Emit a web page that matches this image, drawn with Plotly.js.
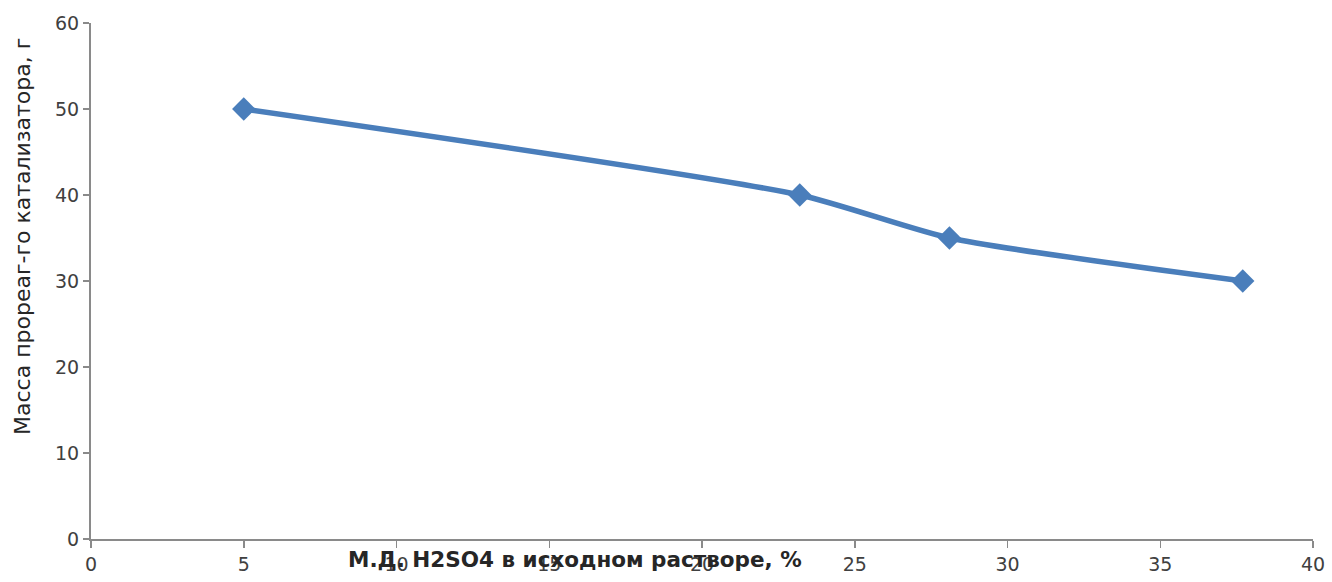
<!DOCTYPE html>
<html>
<head>
<meta charset="utf-8">
<script src="https://cdn.plot.ly/plotly-3.0.1.min.js"></script>
<style>html,body{margin:0;padding:0;background:#fff;}#chart{width:1332px;height:582px;}</style>
</head>
<body>
<div id="chart"></div>
<script>
const xValues = [5, 23.2, 28.1, 37.7];
const yValues = [50, 40, 35, 30];
const xTicks = [0, 5, 10, 15, 20, 25, 30, 35, 40];
const yTicks = [0, 10, 20, 30, 40, 50, 60];
const xTitle = 'М.Д. H2SO4 в исходном растворе, %';
const yTitle = 'Масса прореаг-го катализатора, г';

const fontFam = '"DejaVu Sans", "Open Sans", sans-serif';
const trace = {
  x: xValues, y: yValues, type: 'scatter', mode: 'lines+markers',
  line: {color: '#4a7ebb', width: 5.5, shape: 'spline', smoothing: 0.6},
  marker: {symbol: 'diamond', size: 18, color: '#4a7ebb'},
  hoverinfo: 'none', cliponaxis: false
};
const layout = {
  width: 1332, height: 582,
  margin: {l: 91, r: 19, t: 23, b: 43},
  paper_bgcolor: '#fff', plot_bgcolor: '#fff',
  showlegend: false,
  font: {family: fontFam, size: 19, color: '#404040'},
  xaxis: {
    range: [0, 40], tickvals: xTicks, ticktext: xTicks.map(String),
    showgrid: false, zeroline: false, showline: true, linecolor: '#8a8a8a', linewidth: 2,
    ticks: 'outside', ticklen: 7, tickcolor: '#8a8a8a', tickwidth: 1.5,
    tickfont: {family: fontFam, size: 19, color: '#404040'}, fixedrange: true
  },
  yaxis: {
    range: [0, 60], tickvals: yTicks, ticktext: yTicks.map(String),
    showgrid: false, zeroline: false, showline: true, linecolor: '#8a8a8a', linewidth: 2,
    ticks: 'outside', ticklen: 6, tickcolor: '#8a8a8a', tickwidth: 1.5,
    tickfont: {family: fontFam, size: 19, color: '#404040'}, fixedrange: true
  },
  annotations: [
    {text: xTitle, xref: 'paper', yref: 'paper', x: (575 - 91) / 1222, y: -0.04,
     xanchor: 'center', yanchor: 'middle', showarrow: false,
     font: {family: fontFam, size: 21.5, color: '#262626', weight: 'bold'}},
    {text: yTitle, xref: 'paper', yref: 'paper', x: (23 - 91) / 1222, y: (539 - 237) / 516,
     xanchor: 'center', yanchor: 'middle', textangle: -90, showarrow: false,
     font: {family: fontFam, size: 22, color: '#262626'}}
  ]
};
Plotly.newPlot('chart', [trace], layout, {staticPlot: true, displayModeBar: false});
</script>
</body>
</html>
